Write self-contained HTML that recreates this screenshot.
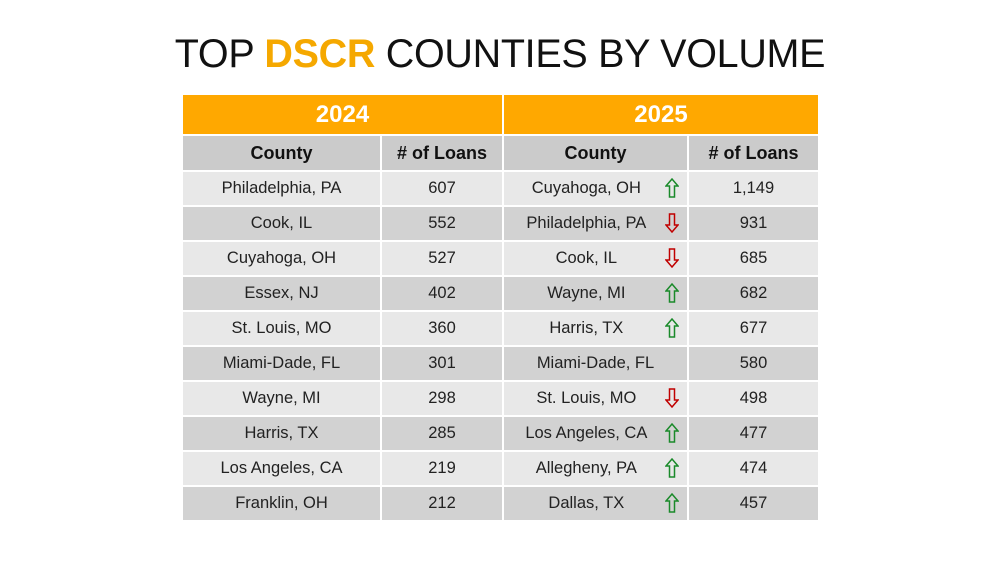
<!DOCTYPE html>
<html><head><style>
body{margin:0;width:1000px;height:563px;background:#fff;font-family:"Liberation Sans",sans-serif;overflow:hidden;position:relative}
.title{position:absolute;top:32px;left:0;width:1000px;text-align:center;font-size:39.5px;color:#111;letter-spacing:-0.3px}
.title b{color:#f5a800}
table{position:absolute;left:181px;top:93px;border-collapse:collapse;table-layout:fixed}
td{border:2px solid #fff;text-align:center;font-size:16.5px;color:#222;height:33px;padding:0;position:relative}
.yr td{background:#ffa800;color:#fff;font-weight:bold;font-size:24px;height:39px}
.hd td{background:#cbcbcb;font-weight:bold;font-size:18px;color:#111;height:34px}
tr.l td{background:#e8e8e8}
tr.d td{background:#d2d2d2}
svg{position:absolute;right:8px;top:6px}
</style></head><body>
<div class="title">TOP <b>DSCR</b> COUNTIES BY VOLUME</div>
<table>
<colgroup><col style="width:199px"><col style="width:122px"><col style="width:185px"><col style="width:131px"></colgroup>
<tr class="yr"><td colspan="2">2024</td><td colspan="2">2025</td></tr>
<tr class="hd"><td>County</td><td># of Loans</td><td>County</td><td># of Loans</td></tr>
<tr class="l"><td>Philadelphia, PA</td><td>607</td><td>Cuyahoga, OH&nbsp;&nbsp;&nbsp;&nbsp;<svg width="14" height="20" viewBox="0 0 14 20"><path d="M7 1 L13 8 L9.5 8 L9.5 19 L4.5 19 L4.5 8 L1 8 Z" fill="none" stroke="#1a8a2a" stroke-width="1.5"/></svg></td><td>1,149</td></tr>
<tr class="d"><td>Cook, IL</td><td>552</td><td>Philadelphia, PA&nbsp;&nbsp;&nbsp;&nbsp;<svg width="14" height="20" viewBox="0 0 14 20"><path d="M7 19 L13 12 L9.5 12 L9.5 1 L4.5 1 L4.5 12 L1 12 Z" fill="none" stroke="#c00000" stroke-width="1.5"/></svg></td><td>931</td></tr>
<tr class="l"><td>Cuyahoga, OH</td><td>527</td><td>Cook, IL&nbsp;&nbsp;&nbsp;&nbsp;<svg width="14" height="20" viewBox="0 0 14 20"><path d="M7 19 L13 12 L9.5 12 L9.5 1 L4.5 1 L4.5 12 L1 12 Z" fill="none" stroke="#c00000" stroke-width="1.5"/></svg></td><td>685</td></tr>
<tr class="d"><td>Essex, NJ</td><td>402</td><td>Wayne, MI&nbsp;&nbsp;&nbsp;&nbsp;<svg width="14" height="20" viewBox="0 0 14 20"><path d="M7 1 L13 8 L9.5 8 L9.5 19 L4.5 19 L4.5 8 L1 8 Z" fill="none" stroke="#1a8a2a" stroke-width="1.5"/></svg></td><td>682</td></tr>
<tr class="l"><td>St. Louis, MO</td><td>360</td><td>Harris, TX&nbsp;&nbsp;&nbsp;&nbsp;<svg width="14" height="20" viewBox="0 0 14 20"><path d="M7 1 L13 8 L9.5 8 L9.5 19 L4.5 19 L4.5 8 L1 8 Z" fill="none" stroke="#1a8a2a" stroke-width="1.5"/></svg></td><td>677</td></tr>
<tr class="d"><td>Miami-Dade, FL</td><td>301</td><td>Miami-Dade, FL</td><td>580</td></tr>
<tr class="l"><td>Wayne, MI</td><td>298</td><td>St. Louis, MO&nbsp;&nbsp;&nbsp;&nbsp;<svg width="14" height="20" viewBox="0 0 14 20"><path d="M7 19 L13 12 L9.5 12 L9.5 1 L4.5 1 L4.5 12 L1 12 Z" fill="none" stroke="#c00000" stroke-width="1.5"/></svg></td><td>498</td></tr>
<tr class="d"><td>Harris, TX</td><td>285</td><td>Los Angeles, CA&nbsp;&nbsp;&nbsp;&nbsp;<svg width="14" height="20" viewBox="0 0 14 20"><path d="M7 1 L13 8 L9.5 8 L9.5 19 L4.5 19 L4.5 8 L1 8 Z" fill="none" stroke="#1a8a2a" stroke-width="1.5"/></svg></td><td>477</td></tr>
<tr class="l"><td>Los Angeles, CA</td><td>219</td><td>Allegheny, PA&nbsp;&nbsp;&nbsp;&nbsp;<svg width="14" height="20" viewBox="0 0 14 20"><path d="M7 1 L13 8 L9.5 8 L9.5 19 L4.5 19 L4.5 8 L1 8 Z" fill="none" stroke="#1a8a2a" stroke-width="1.5"/></svg></td><td>474</td></tr>
<tr class="d"><td>Franklin, OH</td><td>212</td><td>Dallas, TX&nbsp;&nbsp;&nbsp;&nbsp;<svg width="14" height="20" viewBox="0 0 14 20"><path d="M7 1 L13 8 L9.5 8 L9.5 19 L4.5 19 L4.5 8 L1 8 Z" fill="none" stroke="#1a8a2a" stroke-width="1.5"/></svg></td><td>457</td></tr>
</table>
</body></html>
